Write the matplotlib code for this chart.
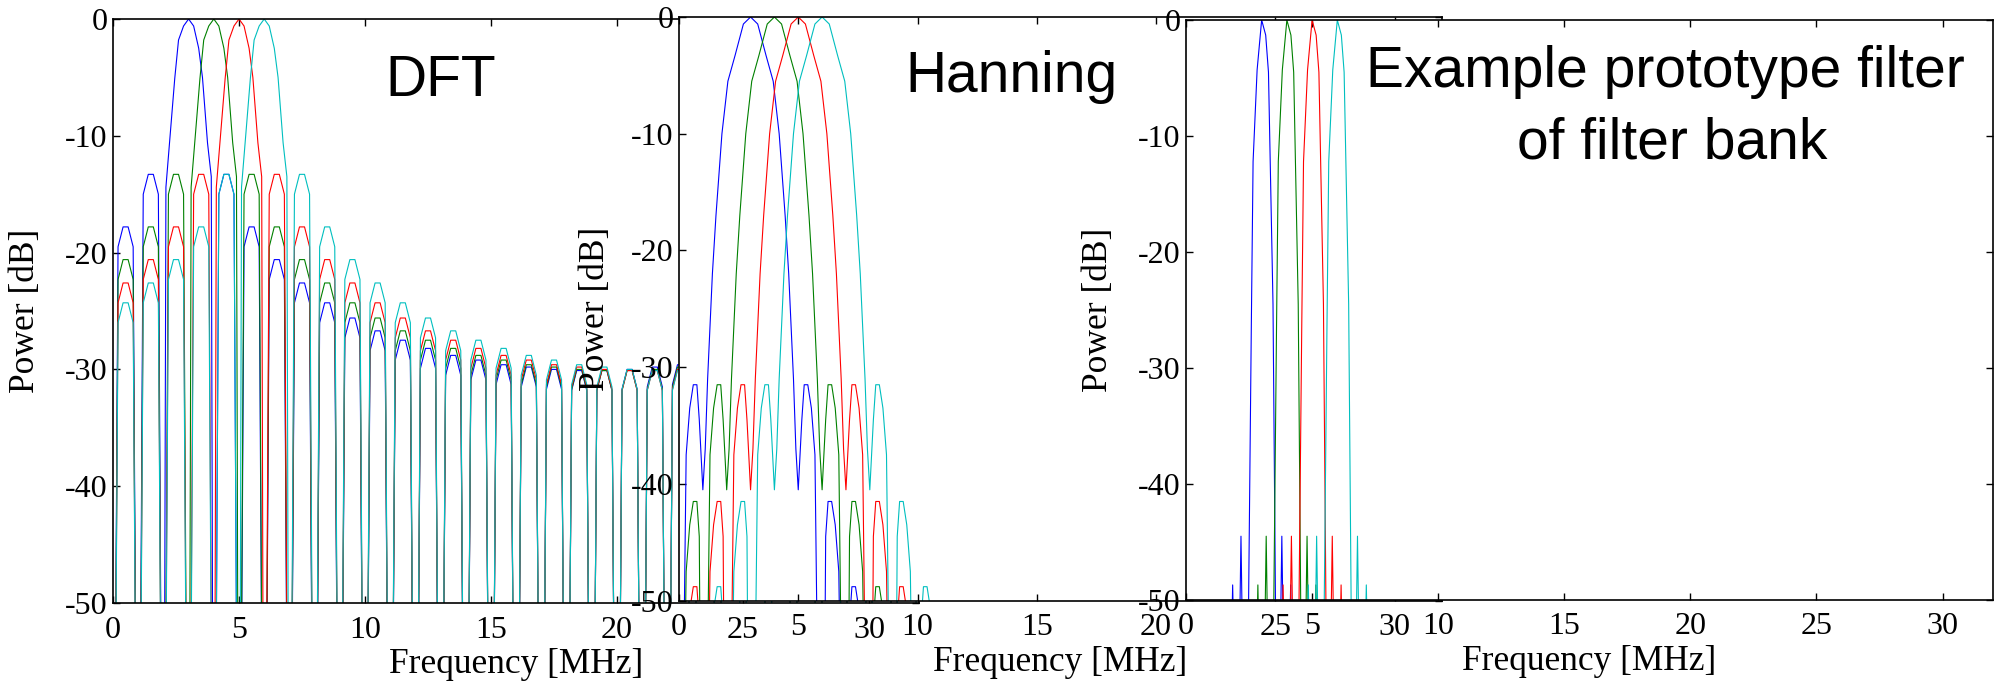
import numpy as np
import matplotlib.pyplot as plt
from matplotlib.ticker import FixedLocator

plt.rcParams['font.family'] = ['Liberation Serif', 'DejaVu Serif']

W, H = 1997, 681
DEEP = -90  # level used at the nulls, drawn below the -50 floor

colors = ['#0000ff', '#008000', '#ff0000', '#00bfbf']
centres = [3, 4, 5, 6]  # MHz, one per channel, same in all panels

# ---- DFT panel ----
# sidelobe peak by distance from channel centre: 1.5, 2.5, ... 15.5 MHz
dft_side_db = [-13.3, -17.8, -20.6, -22.6, -24.3, -25.6, -26.7, -27.5,
               -28.2, -28.8, -29.2, -29.6, -29.8, -30.0, -30.1]
dft_main_off = [-0.9, -0.75, -0.55, -0.4, -0.2, 0.0, 0.2, 0.4, 0.55, 0.75, 0.9]
dft_main_db = [-14.4, -10.4, -5.1, -1.8, -0.6, 0.0, -0.6, -2.5, -5.0, -10.6, -13.5]
dft_side_off = [-0.3, -0.1, 0.1, 0.3]
dft_side_drop = [-1.7, 0.0, 0.0, -1.7]

# ---- Hanning panel ----
hann_main_off = [-2.0, -1.9, -1.8, -1.6, -1.45, -1.2, -0.95, -0.65, -0.3, 0.0,
                 0.3, 0.65, 0.95, 1.2, 1.45, 1.6, 1.8, 1.9, 2.0]
hann_main_db = [-40.5, -37.0, -31.0, -22.0, -17.0, -10.0, -5.5, -3.3, -0.6, 0.0,
                -0.6, -3.3, -5.5, -10.0, -17.0, -22.0, -31.0, -37.0, -40.5]
hann_side_db = [-31.5, -41.5, -48.8]  # at 2.5, 3.5, 4.5 MHz from centre
hann_side_off = [-0.35, -0.25, -0.1, 0.05, 0.2]  # outward from lobe centre
hann_side_drop = [-3.0, 0.0, 0.0, -2.0, -6.0]

# ---- prototype filter panel ----
proto_main_off = [-0.7, -0.41, -0.34, -0.18, 0.0, 0.16, 0.27, 0.45, 0.7]
proto_main_db = [DEEP, -26.4, -12.2, -4.3, 0.0, -1.3, -4.5, -24.5, DEEP]
proto_spike_off = [-1.15, -0.82, 0.8, 1.15]
proto_spike_db = [-48.7, -44.5, -44.5, -48.7]


def dft_curve(c):
    xs, ys = [], []
    for n in range(32):
        if n == c:
            continue
        xs.append(n)
        ys.append(DEEP)
        if n == c - 1:
            xs += [c + o for o in dft_main_off]
            ys += dft_main_db
        else:
            mid = n + 0.5
            d = abs(mid - c)
            d = min(d, 32 - d)
            p = dft_side_db[int(d - 1.5)]
            xs += [mid + o for o in dft_side_off]
            ys += [p + dr for dr in dft_side_drop]
    xs.append(32)
    ys.append(DEEP)
    return xs, ys


def hann_curve(c):
    xs, ys = [c - 5], [DEEP]
    # left sidelobes, outermost first
    for k in range(len(hann_side_db) - 1, -1, -1):
        mid = c - 2.5 - k
        xs += [mid - o for o in hann_side_off[::-1]]
        ys += [hann_side_db[k] + dr for dr in hann_side_drop[::-1]]
        if k > 0:
            xs.append(mid + 0.5)
            ys.append(DEEP)
    xs += [c + o for o in hann_main_off]
    ys += hann_main_db
    for k in range(len(hann_side_db)):
        mid = c + 2.5 + k
        xs += [mid + o for o in hann_side_off]
        ys += [hann_side_db[k] + dr for dr in hann_side_drop]
        xs.append(mid + 0.5)
        ys.append(DEEP)
    return xs, ys


def proto_curve(c):
    xs, ys = [], []
    for o, h in zip(proto_spike_off[:2], proto_spike_db[:2]):
        xs += [c + o - 0.1, c + o, c + o + 0.1]
        ys += [-60, h, -60]
    xs += [c + o for o in proto_main_off]
    ys += proto_main_db
    for o, h in zip(proto_spike_off[2:], proto_spike_db[2:]):
        xs += [c + o - 0.1, c + o, c + o + 0.1]
        ys += [-60, h, -60]
    return xs, ys


def style(ax):
    ax.set_xlim(0, 32)
    ax.set_ylim(-50, 0)
    ax.xaxis.set_major_locator(FixedLocator(range(0, 31, 5)))
    ax.yaxis.set_major_locator(FixedLocator(range(-50, 1, 10)))
    ax.set_xticklabels([str(v) for v in range(0, 31, 5)])
    ax.set_yticklabels([str(v) for v in range(-50, 1, 10)])
    ax.tick_params(direction='in', top=True, right=True, length=5, width=1,
                   labelsize=23, pad=4)
    ax.tick_params(axis='x', pad=9)
    for s in ax.spines.values():
        s.set_linewidth(1.2)
    ax.set_xlabel('Frequency [MHz]', fontsize=25.5)
    ax.set_ylabel('Power [dB]', fontsize=25.5)
    ax.xaxis.set_label_coords(0.5, -0.077)
    ax.yaxis.set_label_coords(-0.088, 0.5)


fig = plt.figure(figsize=(W / 100, H / 100), dpi=100)
ax1 = fig.add_axes([113 / W, 1 - 603 / H, 806.4 / W, 584 / H])
ax2 = fig.add_axes([679 / W, 1 - 600.7 / H, 763.2 / W, 583.7 / H])
ax3 = fig.add_axes([1186 / W, 1 - 600 / H, 807 / W, 580 / H])

for c, col in zip(centres, colors):
    ax1.plot(*dft_curve(c), color=col, lw=0.8)
    ax2.plot(*hann_curve(c), color=col, lw=0.8)
    ax3.plot(*proto_curve(c), color=col, lw=0.8)

for ax in (ax1, ax2, ax3):
    style(ax)

sans = ['Liberation Sans', 'DejaVu Sans']
fig.text(441 / W, 1 - 96.5 / H, 'DFT', fontsize=41, family=sans,
         ha='center', va='baseline')
fig.text(1012 / W, 1 - 92 / H, 'Hanning', fontsize=41, family=sans,
         ha='center', va='baseline')
fig.text(1665 / W, 1 - 86.8 / H, 'Example prototype filter', fontsize=41,
         family=sans, ha='center', va='baseline')
fig.text(1672 / W, 1 - 158.4 / H, 'of filter bank', fontsize=41,
         family=sans, ha='center', va='baseline')

fig.savefig('out.png', dpi=100, facecolor='white')
